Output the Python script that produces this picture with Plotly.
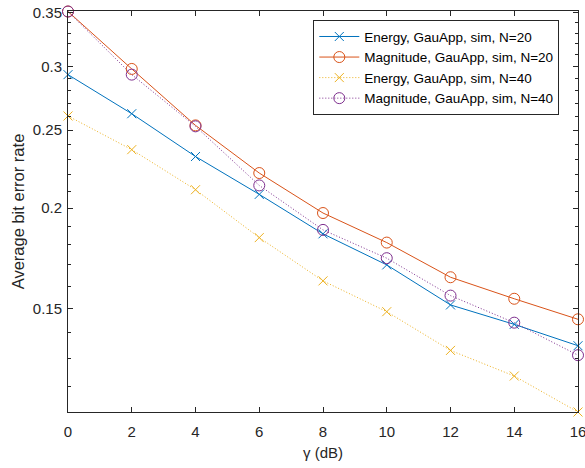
import math
import plotly.graph_objects as go

snr_db = [0, 2, 4, 6, 8, 10, 12, 14, 16]

energy_n20 = [0.293, 0.262, 0.2318, 0.208, 0.1858, 0.170, 0.1516, 0.1434, 0.1349]
magnitude_n20 = [0.351, 0.2978, 0.2534, 0.2211, 0.1972, 0.1812, 0.1641, 0.1543, 0.1455]
energy_n40 = [0.2603, 0.2364, 0.2108, 0.1838, 0.1624, 0.1487, 0.1331, 0.1237, 0.1116]
magnitude_n40 = [0.351, 0.293, 0.2527, 0.2134, 0.1879, 0.1733, 0.1557, 0.1441, 0.1313]

names = ["Energy, GauApp, sim, N=20", "Magnitude, GauApp, sim, N=20",
         "Energy, GauApp, sim, N=40", "Magnitude, GauApp, sim, N=40"]

y_ticks = [0.15, 0.2, 0.25, 0.3, 0.35]
y_tick_text = ["0.15", "0.2", "0.25", "0.3", "0.35"]
y_minor = [0.12, 0.13, 0.14, 0.16, 0.17, 0.18, 0.19, 0.21, 0.22, 0.23, 0.24,
           0.26, 0.27, 0.28, 0.29, 0.31, 0.32, 0.33, 0.34]
x_ticks = [0, 2, 4, 6, 8, 10, 12, 14, 16]

series = [
    (energy_n20, "#0072BD", "solid", "x-thin-open", 9),
    (magnitude_n20, "#D95319", "solid", "circle-open", 11),
    (energy_n40, "#EDB120", "1px,2px", "x-thin-open", 9),
    (magnitude_n40, "#7E2F8E", "1px,2px", "circle-open", 11),
]

FONT = "Liberation Sans, Arial, Helvetica, sans-serif"
AX = "#262626"

fig = go.Figure()
for (vals, color, dash, sym, size), name in zip(series, names):
    fig.add_trace(go.Scatter(
        x=snr_db, y=vals, name=name, mode="lines+markers",
        line=dict(color=color, width=1, dash=dash),
        marker=dict(symbol=sym, size=size, color=color,
                    line=dict(color=color, width=1)),
        cliponaxis=False,
    ))

ymin, ymax = 0.1116, 0.3515

fig.update_layout(
    width=585, height=468,
    margin=dict(l=68, r=7, t=11, b=56, autoexpand=False),
    paper_bgcolor="white", plot_bgcolor="white",
    font=dict(family=FONT, size=15, color=AX),
    showlegend=True,
    legend=dict(x=0.481, y=0.977, xanchor="left", yanchor="top",
                bgcolor="white", bordercolor=AX, borderwidth=1,
                font=dict(size=13.5, color="black"),
                tracegroupgap=0, itemwidth=40),
    xaxis=dict(
        range=[0, 16], tickmode="array", tickvals=x_ticks,
        ticks="inside", ticklen=5, tickcolor=AX, tickwidth=1,
        showline=True, linecolor=AX, linewidth=1, mirror="ticks",
        showgrid=False, zeroline=False, automargin=False,
        ticklabelstandoff=6, ticklabeloverflow="allow",
        title=dict(text="γ (dB)", font=dict(size=15, color=AX), standoff=8),
    ),
    yaxis=dict(
        type="log", range=[math.log10(ymin), math.log10(ymax)],
        tickmode="array", tickvals=y_ticks, ticktext=y_tick_text,
        ticks="inside", ticklen=5, tickcolor=AX, tickwidth=1,
        showline=True, linecolor=AX, linewidth=1, mirror="ticks",
        showgrid=False, zeroline=False, automargin=False,
        ticklabelstandoff=2, ticklabeloverflow="allow",
        minor=dict(tickmode="array", tickvals=y_minor, ticks="inside",
                   ticklen=3, tickcolor=AX, tickwidth=1, showgrid=False),
        title=dict(text="Average bit error rate", font=dict(size=16.5, color=AX), standoff=4),
    ),
)

fig.write_html("out.html", config={"displayModeBar": False},
               post_script="document.body.style.margin='0';")
